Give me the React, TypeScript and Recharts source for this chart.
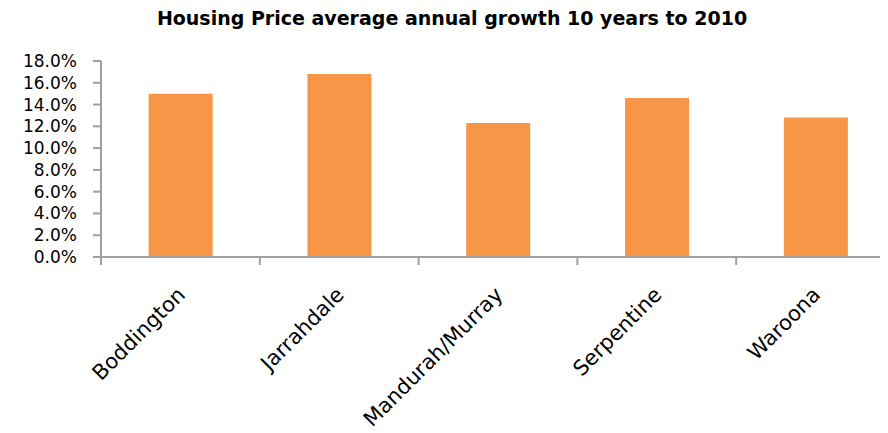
import { BarChart, Bar, XAxis, YAxis } from "recharts";

const BAR_COLOR = "#F79646";
const AXIS_COLOR = "#A0A0A0";
const FONT = "'DejaVu Sans', sans-serif";

const TITLE = "Housing Price average annual growth 10 years to 2010";
const regions = ["Boddington", "Jarrahdale", "Mandurah/Murray", "Serpentine", "Waroona"];
const growth = [15.0, 16.8, 12.3, 14.6, 12.8];
const yTicks = [0, 2, 4, 6, 8, 10, 12, 14, 16, 18];

const data = regions.map((name, i) => ({ name, growth: growth[i] }));

// label rotated like the original, plus the Excel-style tick mark on the left edge of each band
function RegionTick({ x, y, payload, width, visibleTicksCount }: any) {
  const half = payload.offset || width / visibleTicksCount / 2;
  const edge = x - half;
  return (
    <g>
      <line x1={edge} y1={y} x2={edge} y2={y + 8} stroke={AXIS_COLOR} strokeWidth={2} />
      <text
        x={0}
        y={0}
        transform={`translate(${x + 6},${y + 39}) rotate(-45)`}
        textAnchor="end"
        fontSize={21}
        fontFamily={FONT}
        fill="#000"
      >
        {payload.value}
      </text>
    </g>
  );
}

export default function App() {
  return (
    <div style={{ position: "relative", width: 880, height: 425, overflow: "hidden" }}>
      <div
        style={{
          position: "absolute",
          top: 0,
          left: 0,
          width: 888,
          textAlign: "center",
          fontFamily: FONT,
          fontWeight: 700,
          fontSize: 19,
          lineHeight: "20px",
        }}
      >
        {TITLE}
      </div>
      <BarChart
        width={900}
        height={425}
        data={data}
        barCategoryGap="30%"
        margin={{ top: 53, right: 13, bottom: 0, left: 0 }}
      >
        <XAxis
          dataKey="name"
          tickLine={false}
          tickSize={0}
          tickMargin={0}
          axisLine={{ stroke: AXIS_COLOR, strokeWidth: 2 }}
          tick={<RegionTick />}
          interval={0}
          height={176}
        />
        <YAxis
          domain={[0, 18]}
          ticks={yTicks}
          interval={0}
          allowDataOverflow
          width={93}
          axisLine={{ stroke: AXIS_COLOR, strokeWidth: 2 }}
          tickLine={{ stroke: AXIS_COLOR, strokeWidth: 2 }}
          tickSize={8}
          tickMargin={16}
          tickFormatter={(v) => `${v.toFixed(1)}%`}
          tick={{ fontSize: 17, fontFamily: FONT, fill: "#000" }}
        />
        <Bar dataKey="growth" fill={BAR_COLOR} isAnimationActive={false} />
      </BarChart>
    </div>
  );
}
